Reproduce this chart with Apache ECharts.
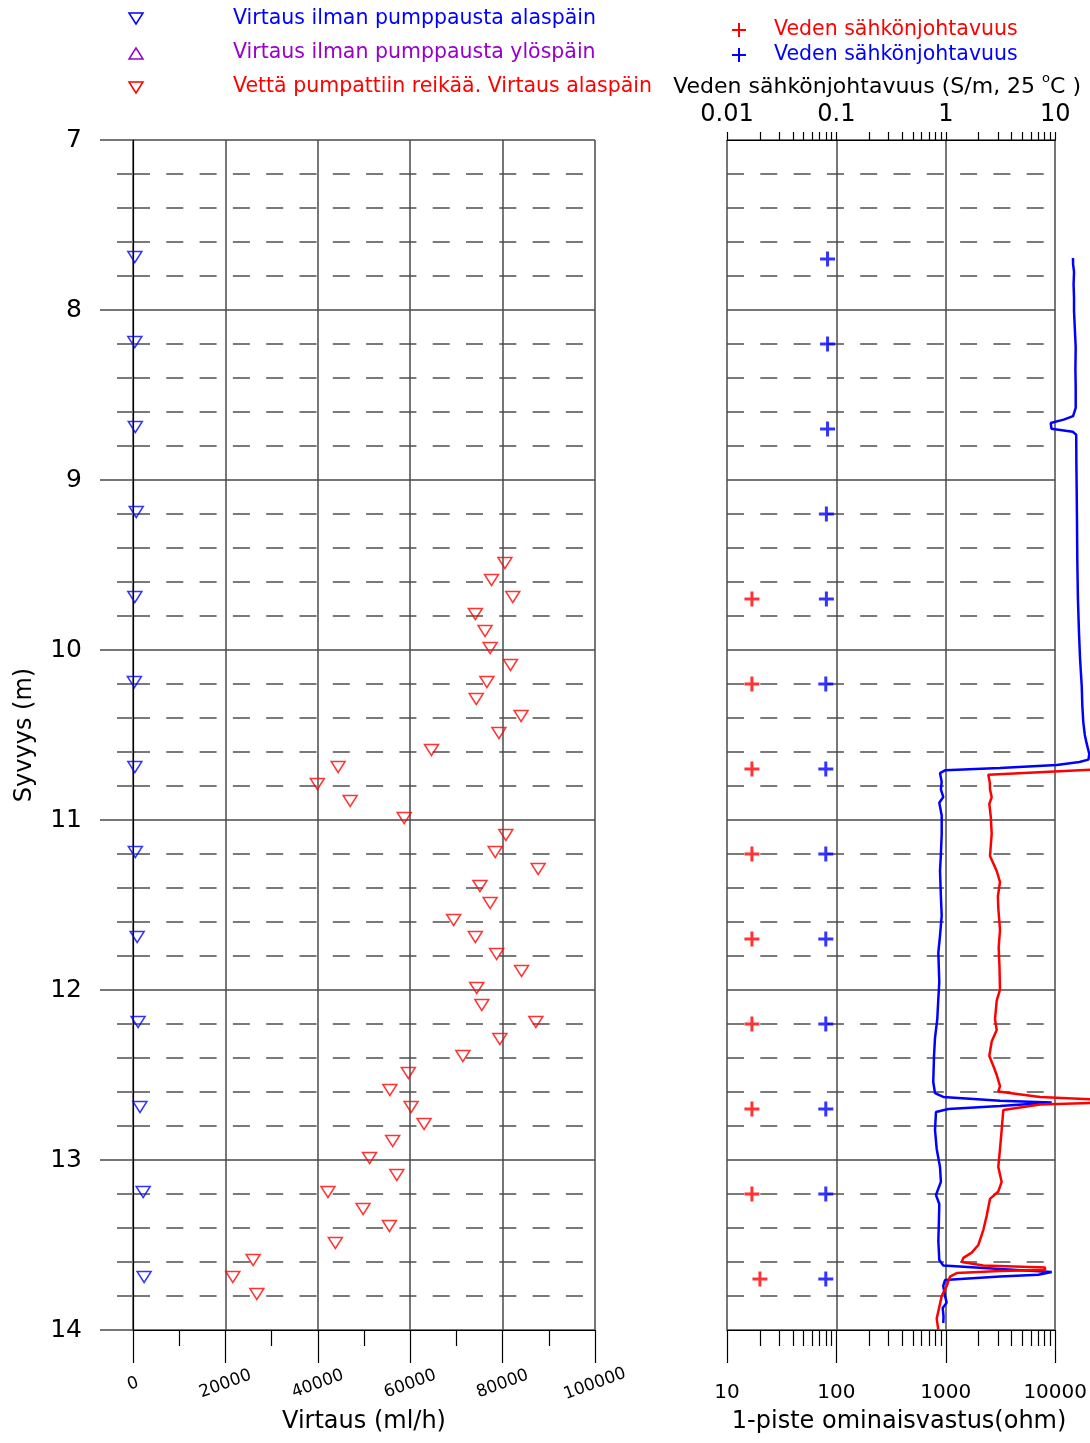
<!DOCTYPE html>
<html><head><meta charset="utf-8">
<script src="https://cdn.jsdelivr.net/npm/echarts@6/dist/echarts.min.js"></script>
<style>html,body{margin:0;padding:0;background:#fff}#c{width:1090px;height:1443px}</style>
</head><body><div id="c"></div>
<script>
// ---------- DATA ----------
// Flow without pumping, downwards (depth m, flow ml/h)
const noPumpDepth = [7.7, 8.2, 8.7, 9.2, 9.7, 10.2, 10.7, 11.2, 11.7, 12.2, 12.7, 13.2, 13.7];
const noPumpDownFlow = [400, 400, 500, 700, 400, 300, 400, 500, 900, 1100, 1500, 2200, 2400];
// Flow without pumping, upwards (no measurements shown)
const noPumpUpDepth = [];
const noPumpUpFlow = [];
// Water pumped into the hole, flow downwards
const pumpDepth = [9.5, 9.6, 9.7, 9.8, 9.9, 10.0, 10.1, 10.2, 10.3, 10.4, 10.5, 10.6, 10.7, 10.8, 10.9,
  11.0, 11.1, 11.2, 11.3, 11.4, 11.5, 11.6, 11.7, 11.8, 11.9, 12.0, 12.1, 12.2, 12.3, 12.4,
  12.5, 12.6, 12.7, 12.8, 12.9, 13.0, 13.1, 13.2, 13.3, 13.4, 13.5, 13.6, 13.7, 13.8];
const pumpDownFlow = [80500, 77600, 82200, 74100, 76200, 77300, 81700, 76600, 74300, 84000, 79200, 64600, 44400, 39900, 47000,
  58700, 80700, 78400, 87700, 75100, 77300, 69400, 74100, 78700, 84100, 74400, 75500, 87200, 79400, 71400,
  59600, 55600, 60200, 63000, 56200, 51200, 57100, 42200, 49800, 55500, 43800, 26000, 21600, 26800];

// Single-point resistance (ohm) logs
const blueResDepth = [7.694, 7.73, 7.776, 7.85, 7.93, 8.006, 8.1, 8.218, 8.35, 8.45, 8.576, 8.624, 8.645, 8.665, 8.698,
  8.716, 8.733, 8.9, 9.059, 9.25, 9.476, 9.7, 9.9, 10.05, 10.212, 10.33, 10.424, 10.5, 10.551, 10.612,
  10.645, 10.659, 10.676, 10.694, 10.708, 10.724, 10.776, 10.82, 10.865, 10.898, 10.974, 11.082, 11.2, 11.3, 11.45,
  11.562, 11.68, 11.78, 11.953, 12.05, 12.171, 12.281, 12.388, 12.541, 12.606, 12.629, 12.651, 12.662, 12.682, 12.7,
  12.718, 12.824, 12.935, 13.041, 13.129, 13.206, 13.259, 13.35, 13.476, 13.588, 13.621, 13.641, 13.659, 13.675, 13.686,
  13.706, 13.741, 13.8, 13.839, 13.871, 13.92, 13.959];
const blueResOhm = [13970, 14000, 14280, 14150, 14280, 14280, 14500, 14790, 14700, 14790, 14790, 14000, 11500, 8770, 8900,
  13900, 14950, 15000, 15100, 15200, 15300, 15500, 15850, 16200, 16780, 17000, 17340, 17900, 18620, 19660,
  19300, 16000, 9940, 3030, 959, 864, 895, 880, 925, 851, 895, 895, 880, 864, 880,
  895, 864, 834, 851, 834, 816, 778, 762, 750, 778, 925, 3033, 8950, 3033, 1028,
  794, 778, 806, 864, 880, 794, 851, 845, 834, 851, 925, 3033, 8950, 6760, 3033,
  959, 925, 960, 993, 914, 930, 925];
const redResDepth = [10.698, 10.734, 10.78, 10.821, 10.865, 10.906, 10.98, 11.082, 11.15, 11.212, 11.3, 11.365, 11.45, 11.518, 11.647,
  11.75, 11.865, 11.998, 12.063, 12.171, 12.235, 12.303, 12.388, 12.45, 12.5, 12.565, 12.597, 12.629, 12.647, 12.662,
  12.673, 12.706, 12.824, 12.935, 13.041, 13.129, 13.185, 13.229, 13.327, 13.412, 13.5, 13.545, 13.576, 13.6, 13.621,
  13.632, 13.647, 13.653, 13.665, 13.686, 13.741, 13.8, 13.845, 13.933, 14.0];
const redResOhm = [30000, 2372, 2450, 2460, 2548, 2425, 2500, 2548, 2500, 2460, 2831, 3033, 2900, 2927, 3033,
  2950, 3000, 3033, 2831, 2731, 2831, 2548, 2425, 2650, 2831, 3033, 2927, 7000, 30000, 30000,
  7000, 3250, 3140, 3033, 2927, 3140, 2927, 2460, 2296, 2138, 1926, 1677, 1407, 1361, 2138,
  7780, 7780, 3033, 1225, 1065, 993, 895, 864, 806, 834];

// Water conductivity (S/m, 25 C)
const redCondDepth = [9.7, 10.2, 10.7, 11.2, 11.7, 12.2, 12.7, 13.2, 13.7];
const redCondValue = [0.0169, 0.0169, 0.0169, 0.0169, 0.0169, 0.0169, 0.0169, 0.0169, 0.020];
const blueCondDepth = [7.7, 8.2, 8.7, 9.2, 9.7, 10.2, 10.7, 11.2, 11.7, 12.2, 12.7, 13.2, 13.7];
const blueCondValue = [0.083, 0.083, 0.083, 0.081, 0.081, 0.08, 0.08, 0.08, 0.08, 0.08, 0.08, 0.08, 0.08];

// Tick labels
const depthRange = [7, 14];
const flowTicks = [0, 20000, 40000, 60000, 80000, 100000];
const ohmTicks = [10, 100, 1000, 10000];
const condTicks = [0.01, 0.1, 1, 10];

// ---------- STYLE ----------
const FF = 'DejaVu Sans';
const SOLID = {color: '#4a4a4a', width: 1.5};
const DASH = {color: '#7a7a7a', width: 2, type: [17, 16.3]};
const AX = {color: '#000', width: 1.2};
// resistance curves run past 10000 ohm up to the page edge: an invisible log axis
// on a wider grid (same 110 px per decade) carries them
const PANEL_W = 330, CURVE_W = 363;
const CURVE_MAX = Math.pow(10, 1 + 3 * CURVE_W / PANEL_W);

function logSubTicks(ticks) {
  const out = [];
  for (let i = 0; i < ticks.length - 1; i++) {
    for (let k = 1; k <= 9; k++) out.push(+(ticks[i] * k).toPrecision(6));
  }
  out.push(ticks[ticks.length - 1]);
  return out;
}
const ohmMinor = logSubTicks(ohmTicks).filter(v => ohmTicks.indexOf(v) < 0);
const condAll = logSubTicks(condTicks);
const fmt = v => String(+(+v).toPrecision(6));

const pair = (xs, ys) => xs.map((x, i) => [x, ys[i]]);
const triDown = {symbol: 'triangle', symbolRotate: 180, symbolSize: [14, 11], symbolOffset: [0, -2]};
const PLUS = 'path://M6,0H9V6H15V9H9V15H6V9H0V6H6Z';
const LEG_FONT = '20.5px "DejaVu Sans"';

const chart = echarts.init(document.getElementById('c'));
const option = {
  animation: false,
  backgroundColor: '#fff',
  grid: [
    {left: 133, top: 140, width: 462, height: 1190},
    {left: 727, top: 140, width: PANEL_W, height: 1190},
    {left: 727, top: 140, width: CURVE_W, height: 1190}
  ],
  xAxis: [
    {gridIndex: 0, type: 'value', position: 'bottom', min: 0, max: 100000, interval: 20000,
      axisLine: {show: true, onZero: false, lineStyle: AX},
      axisTick: {show: true, length: 33, lineStyle: AX},
      minorTick: {show: true, splitNumber: 2, length: 16, lineStyle: AX},
      splitLine: {show: true, lineStyle: SOLID},
      axisLabel: {rotate: 20, align: 'center', verticalAlign: 'middle', margin: 54, fontSize: 17,
        fontFamily: FF, color: '#000', formatter: fmt, showMinLabel: true, showMaxLabel: true},
      name: 'Virtaus (ml/h)', nameLocation: 'middle', nameGap: 92,
      nameTextStyle: {fontSize: 24, fontFamily: FF, color: '#000', verticalAlign: 'middle'}},
    {gridIndex: 1, type: 'log', logBase: 10, position: 'bottom', min: 10, max: 10000,
      axisLine: {show: true, onZero: false, lineStyle: AX},
      axisTick: {show: true, length: 33, lineStyle: AX},
      splitLine: {show: true, lineStyle: SOLID},
      axisLabel: {margin: 63, verticalAlign: 'middle', fontSize: 20, fontFamily: FF, color: '#000',
        formatter: fmt, showMinLabel: true, showMaxLabel: true},
      name: '1-piste ominaisvastus(ohm)', nameLocation: 'middle', nameGap: 92,
      nameTextStyle: {fontSize: 24, fontFamily: FF, color: '#000', verticalAlign: 'middle', padding: [0, 0, 0, 16]}},
    {gridIndex: 1, type: 'log', logBase: 10, position: 'bottom', min: 10, max: 10000,
      axisLine: {show: false}, splitLine: {show: false}, axisLabel: {show: false},
      axisTick: {show: true, length: 16, lineStyle: AX, customValues: ohmMinor}},
    {gridIndex: 1, type: 'log', logBase: 10, position: 'top', min: 0.01, max: 10,
      axisLine: {show: true, onZero: false, lineStyle: AX},
      axisTick: {show: true, length: 8, lineStyle: AX, customValues: condAll},
      splitLine: {show: false},
      axisLabel: {customValues: condTicks, margin: 25, verticalAlign: 'middle', fontSize: 24,
        fontFamily: FF, color: '#000', formatter: fmt, showMinLabel: true, showMaxLabel: true},
      name: '{a|Veden sähkönjohtavuus (S/m, 25 }{s|o}{a|C )}', nameLocation: 'middle', nameGap: 52,
      nameTextStyle: {fontFamily: FF, color: '#000', verticalAlign: 'middle', padding: [0, 28, 0, 0],
        rich: {a: {fontSize: 22, fontFamily: FF, color: '#000'},
               s: {fontSize: 13, fontFamily: FF, color: '#000', padding: [0, 0, 16, 0]}}}},
    {gridIndex: 2, type: 'log', logBase: 10, position: 'bottom', min: 10, max: CURVE_MAX,
      show: false, splitLine: {show: false}}
  ],
  yAxis: [
    {gridIndex: 0, type: 'value', inverse: true, min: depthRange[0], max: depthRange[1], interval: 1,
      axisLine: {show: true, onZero: false, lineStyle: AX},
      axisTick: {show: true, length: 33, lineStyle: SOLID},
      minorTick: {show: true, splitNumber: 5, length: 16, lineStyle: {color: '#7a7a7a', width: 2}},
      splitLine: {show: true, lineStyle: SOLID},
      minorSplitLine: {show: true, lineStyle: DASH},
      axisLabel: {fontSize: 25, margin: 51, fontFamily: FF, color: '#000', showMinLabel: true, showMaxLabel: true},
      name: 'Syvyys (m)', nameLocation: 'middle', nameGap: 108, nameRotate: 90,
      nameTextStyle: {fontSize: 24, fontFamily: FF, color: '#000', verticalAlign: 'middle'}},
    {gridIndex: 1, type: 'value', inverse: true, min: depthRange[0], max: depthRange[1], interval: 1,
      axisLine: {show: false}, axisTick: {show: false}, axisLabel: {show: false},
      minorTick: {show: false, splitNumber: 5},
      splitLine: {show: true, lineStyle: SOLID},
      minorSplitLine: {show: true, lineStyle: DASH}},
    {gridIndex: 2, type: 'value', inverse: true, min: depthRange[0], max: depthRange[1], interval: 1,
      show: false, splitLine: {show: false}}
  ],
  series: [
    Object.assign({type: 'scatter', name: 'Virtaus ilman pumppausta alaspäin', xAxisIndex: 0, yAxisIndex: 0,
      data: pair(noPumpDownFlow, noPumpDepth),
      itemStyle: {color: 'rgba(0,0,0,0)', borderColor: '#0000ff', borderWidth: 1.5}, z: 4}, triDown),
    {type: 'scatter', name: 'Virtaus ilman pumppausta ylöspäin', xAxisIndex: 0, yAxisIndex: 0,
      data: pair(noPumpUpFlow, noPumpUpDepth), symbol: 'triangle', symbolSize: [14, 11],
      itemStyle: {color: 'rgba(0,0,0,0)', borderColor: '#9900cc', borderWidth: 1.5}},
    Object.assign({type: 'scatter', name: 'Vettä pumpattiin reikää. Virtaus alaspäin', xAxisIndex: 0, yAxisIndex: 0,
      data: pair(pumpDownFlow, pumpDepth),
      itemStyle: {color: 'rgba(0,0,0,0)', borderColor: '#ff0000', borderWidth: 1.5}, z: 4}, triDown),
    {type: 'line', name: 'ohm blue', xAxisIndex: 4, yAxisIndex: 2, data: pair(blueResOhm, blueResDepth),
      showSymbol: false, symbol: 'none', lineStyle: {color: '#0000ff', width: 2.5}, z: 5},
    {type: 'line', name: 'ohm red', xAxisIndex: 4, yAxisIndex: 2, data: pair(redResOhm, redResDepth),
      showSymbol: false, symbol: 'none', lineStyle: {color: '#ff0000', width: 2.5}, z: 5},
    {type: 'scatter', name: 'Veden sähkönjohtavuus (red)', xAxisIndex: 3, yAxisIndex: 1,
      data: pair(redCondValue, redCondDepth), symbol: PLUS, symbolSize: 15, itemStyle: {color: '#ff0000'}, z: 6},
    {type: 'scatter', name: 'Veden sähkönjohtavuus (blue)', xAxisIndex: 3, yAxisIndex: 1,
      data: pair(blueCondValue, blueCondDepth), symbol: PLUS, symbolSize: 15, itemStyle: {color: '#0000ff'}, z: 6}
  ],
  graphic: [
    {type: 'polygon', shape: {points: [[129, 13], [143, 13], [136, 24]]}, style: {fill: 'none', stroke: '#0000ff', lineWidth: 1.5}},
    {type: 'polygon', shape: {points: [[129, 59], [143, 59], [136, 48]]}, style: {fill: 'none', stroke: '#9900cc', lineWidth: 1.5}},
    {type: 'polygon', shape: {points: [[129, 82], [143, 82], [136, 93]]}, style: {fill: 'none', stroke: '#ff0000', lineWidth: 1.5}},
    {type: 'text', x: 233, y: 19, style: {text: 'Virtaus ilman pumppausta alaspäin', fill: '#0000ff', font: LEG_FONT, textVerticalAlign: 'middle', verticalAlign: 'middle'}},
    {type: 'text', x: 233, y: 53, style: {text: 'Virtaus ilman pumppausta ylöspäin', fill: '#9900cc', font: LEG_FONT, textVerticalAlign: 'middle', verticalAlign: 'middle'}},
    {type: 'text', x: 233, y: 87, style: {text: 'Vettä pumpattiin reikää. Virtaus alaspäin', fill: '#ff0000', font: LEG_FONT, textVerticalAlign: 'middle', verticalAlign: 'middle'}},
    {type: 'polygon', shape: {points: [[738, 23], [740, 23], [740, 29], [746, 29], [746, 31], [740, 31], [740, 37], [738, 37], [738, 31], [732, 31], [732, 29], [738, 29]]}, style: {fill: '#ff0000'}},
    {type: 'polygon', shape: {points: [[738, 48], [740, 48], [740, 54], [746, 54], [746, 56], [740, 56], [740, 62], [738, 62], [738, 56], [732, 56], [732, 54], [738, 54]]}, style: {fill: '#0000ff'}},
    {type: 'text', x: 774, y: 30, style: {text: 'Veden sähkönjohtavuus', fill: '#ff0000', font: LEG_FONT, textVerticalAlign: 'middle', verticalAlign: 'middle'}},
    {type: 'text', x: 774, y: 55, style: {text: 'Veden sähkönjohtavuus', fill: '#0000ff', font: LEG_FONT, textVerticalAlign: 'middle', verticalAlign: 'middle'}}
  ]
};
chart.setOption(option);
</script>
</body></html>
